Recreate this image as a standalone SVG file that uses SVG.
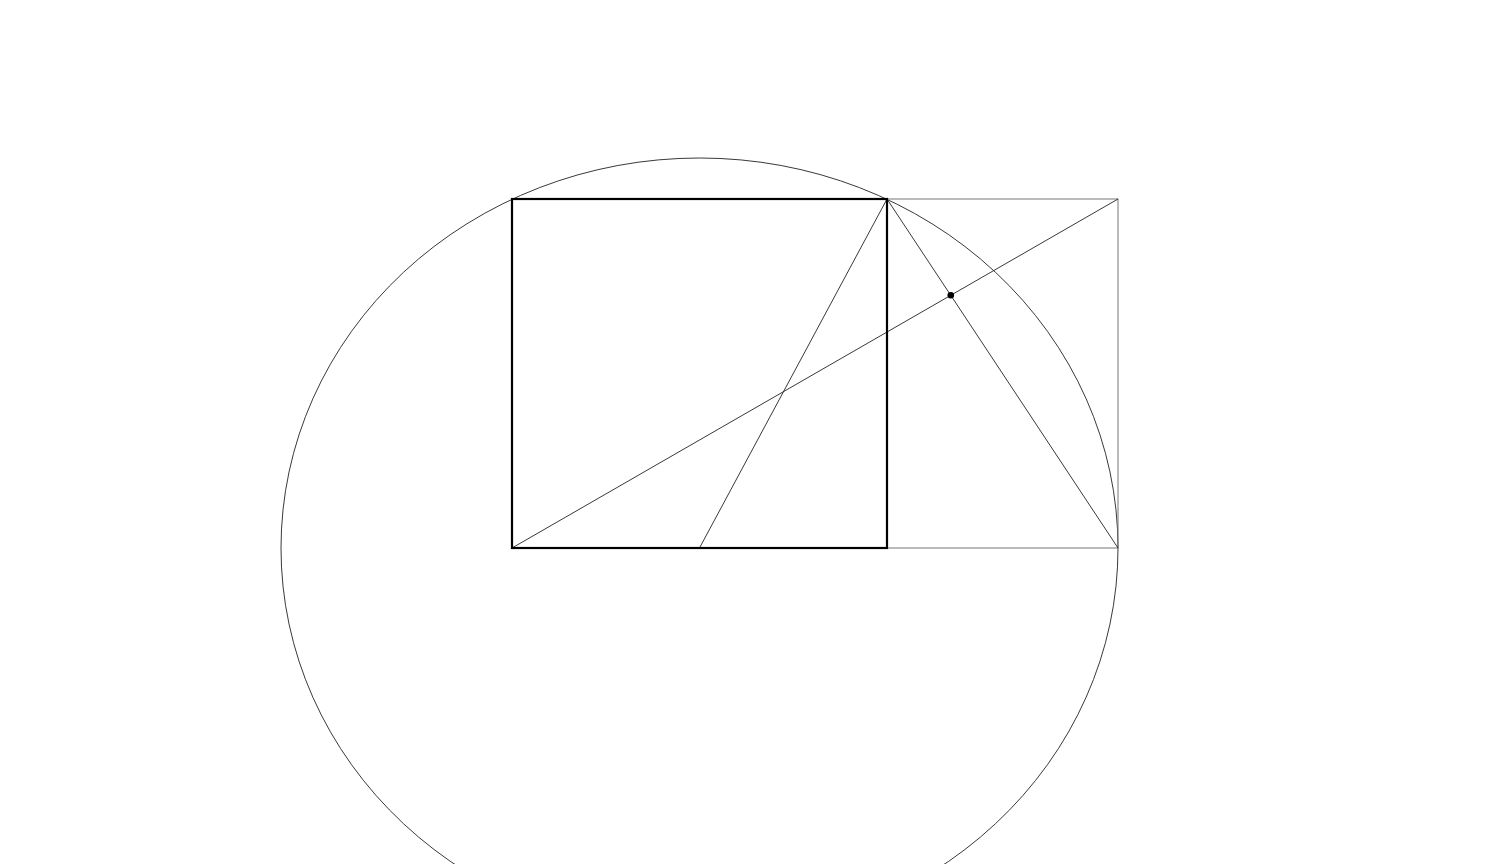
<svg xmlns="http://www.w3.org/2000/svg" width="1500" height="864" viewBox="0 0 1500 864">
<style>
.thin{fill:none;stroke:#222;stroke-width:0.9}
.rect{fill:none;stroke:#777;stroke-width:1}
.sq{fill:none;stroke:#000;stroke-width:2.2}
</style>
<rect width="1500" height="864" fill="#fff"/>
<g id="circle"><ellipse class="thin" cx="699.5" cy="548" rx="418.5" ry="390"/></g>
<g id="rectangle"><rect class="rect" x="512" y="199" width="606" height="349"/></g>
<g id="connectors">
<line class="thin" x1="512" y1="548" x2="1118" y2="199"/>
<line class="thin" x1="699.5" y1="548" x2="887" y2="199"/>
<line class="thin" x1="887" y1="199" x2="1118" y2="548"/>
</g>
<g id="square"><rect class="sq" x="512" y="199" width="375" height="349"/></g>
<g id="point"><circle cx="950.8" cy="295.3" r="3.3" fill="#000"/></g>
</svg>
